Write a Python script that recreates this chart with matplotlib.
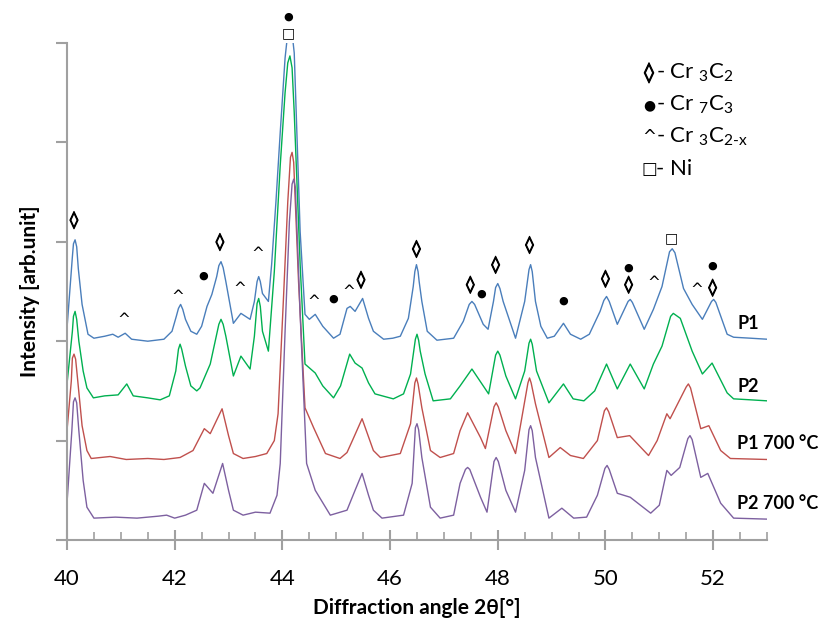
import matplotlib
matplotlib.use("Agg")
import matplotlib.pyplot as plt
import matplotlib.patheffects as pe
from matplotlib.ticker import MultipleLocator

plt.rcParams['font.family'] = ['Lato', 'DejaVu Sans']
plt.rcParams['mathtext.fontset'] = 'custom'
plt.rcParams['mathtext.rm'] = 'Lato'
plt.rcParams['mathtext.it'] = 'Lato:italic'
plt.rcParams['mathtext.bf'] = 'Lato:bold'

# ---------------- data (2theta in degrees, intensity in arb. units, offset stacks) -------------
p1_x = [40.00, 40.10, 40.12, 40.15, 40.18, 40.21, 40.28, 40.39, 40.50, 40.70, 40.85, 40.95, 41.08,
        41.20, 41.50, 41.80, 41.95, 42.03, 42.07, 42.11, 42.15, 42.20, 42.30, 42.41, 42.50, 42.60,
        42.69, 42.78, 42.82, 42.86, 42.90, 42.95, 43.09, 43.23, 43.40, 43.48, 43.53, 43.56, 43.59,
        43.63, 43.74, 43.80, 43.88, 43.96, 44.05, 44.14, 44.22, 44.33, 44.42, 44.50, 44.61, 44.75,
        44.95, 45.07, 45.20, 45.26, 45.35, 45.49, 45.60, 45.69, 45.88, 46.05, 46.19, 46.34, 46.43,
        46.46, 46.49, 46.52, 46.54, 46.59, 46.69, 46.87, 47.18, 47.36, 47.47, 47.52, 47.57, 47.73,
        47.82, 47.92, 47.96, 48.00, 48.04, 48.10, 48.33, 48.50, 48.58, 48.61, 48.64, 48.70, 48.80,
        48.92, 49.05, 49.22, 49.35, 49.54, 49.70, 49.90, 49.97, 50.02, 50.07, 50.22, 50.42, 50.46,
        50.50, 50.72, 50.89, 51.05, 51.19, 51.24, 51.29, 51.45, 51.61, 51.80, 51.97, 52.01, 52.05,
        52.26, 52.38, 52.70, 53.00]
p1_y = [2130, 2850, 2980, 3020, 2950, 2730, 2370, 2070, 2030, 2050, 2070, 2040, 2080,
        2020, 2000, 2020, 2100, 2250, 2330, 2370, 2320, 2220, 2100, 2070, 2150, 2350,
        2470, 2650, 2760, 2800, 2740, 2600, 2180, 2280, 2220, 2400, 2600, 2650, 2600,
        2480, 2400, 2770, 3400, 4100, 4850, 5300, 4900, 3100, 2270, 2220, 2270, 2150,
        2030, 2070, 2330, 2350, 2300, 2430, 2230, 2100, 2020, 2030, 2050, 2230, 2550,
        2700, 2770, 2700, 2600, 2400, 2100, 2010, 2030, 2200, 2370, 2400, 2370, 2170,
        2120, 2400, 2540, 2580, 2530, 2400, 2030, 2400, 2720, 2770, 2700, 2400, 2150,
        2030, 2050, 2180, 2070, 2020, 2070, 2300, 2410, 2450, 2400, 2170, 2400, 2420,
        2390, 2120, 2320, 2550, 2900, 2930, 2890, 2530, 2370, 2220, 2400, 2420, 2390,
        2070, 2040, 2030, 2020]

p2_x = [40.00, 40.10, 40.12, 40.15, 40.18, 40.22, 40.30, 40.37, 40.49, 40.70, 40.95, 41.11, 41.23,
        41.50, 41.73, 41.90, 42.02, 42.07, 42.10, 42.13, 42.20, 42.30, 42.41, 42.47, 42.66, 42.82,
        42.86, 42.90, 42.95, 43.09, 43.23, 43.40, 43.48, 43.53, 43.56, 43.59, 43.63, 43.74, 43.85,
        43.96, 44.05, 44.10, 44.14, 44.18, 44.22, 44.33, 44.42, 44.61, 44.75, 44.95, 45.08, 45.25,
        45.35, 45.48, 45.60, 45.72, 46.06, 46.25, 46.38, 46.47, 46.50, 46.53, 46.56, 46.65, 46.80,
        47.12, 47.30, 47.52, 47.83, 47.96, 48.00, 48.04, 48.15, 48.33, 48.50, 48.58, 48.61, 48.64,
        48.72, 48.95, 49.22, 49.40, 49.60, 49.80, 50.02, 50.22, 50.46, 50.72, 50.89, 51.05, 51.21,
        51.26, 51.39, 51.61, 51.80, 51.98, 52.26, 52.38, 52.70, 53.00]
p2_y = [1570, 2100, 2250, 2300, 2220, 2000, 1700, 1530, 1430, 1450, 1460, 1570, 1450,
        1430, 1410, 1450, 1700, 1920, 1970, 1920, 1750, 1550, 1500, 1530, 1770, 2170,
        2220, 2170, 2050, 1650, 1850, 1720, 2050, 2380, 2430, 2350, 2100, 1900, 2700,
        3770, 4500, 4800, 4870, 4750, 4300, 2770, 1770, 1680, 1550, 1430, 1550, 1870,
        1780, 1730, 1580, 1470, 1420, 1470, 1670, 2020, 2070, 2010, 1900, 1670, 1400,
        1420, 1550, 1720, 1470, 1860, 1900, 1860, 1650, 1420, 1700, 1980, 2020, 1970,
        1700, 1380, 1570, 1420, 1400, 1500, 1770, 1520, 1770, 1520, 1770, 1950, 2250,
        2280, 2230, 1900, 1670, 1780, 1480, 1420, 1410, 1400]

p1h_x = [40.00, 40.08, 40.10, 40.13, 40.16, 40.20, 40.28, 40.37, 40.45, 40.80, 41.10, 41.50, 41.80,
         42.10, 42.34, 42.55, 42.66, 42.88, 43.00, 43.09, 43.27, 43.50, 43.71, 43.85, 43.92, 44.02,
         44.10, 44.15, 44.18, 44.21, 44.24, 44.30, 44.42, 44.58, 44.80, 45.07, 45.20, 45.30, 45.48,
         45.69, 45.82, 46.19, 46.38, 46.46, 46.49, 46.52, 46.59, 46.75, 46.93, 47.18, 47.30, 47.44,
         47.68, 47.77, 47.93, 47.97, 48.01, 48.15, 48.33, 48.56, 48.59, 48.62, 48.70, 48.95, 49.16,
         49.35, 49.59, 49.85, 49.98, 50.02, 50.06, 50.22, 50.45, 50.80, 50.96, 51.14, 51.20, 51.50,
         51.54, 51.58, 51.77, 51.92, 52.14, 52.32, 53.00]
p1h_y = [1100, 1600, 1830, 1870, 1820, 1600, 1150, 900, 820, 840, 810, 820, 810,
         830, 900, 1120, 1070, 1320, 1050, 870, 820, 840, 870, 1000, 1270, 2430,
         3400, 3850, 3900, 3800, 3400, 2600, 1330, 1130, 870, 820, 880, 1000, 1220,
         900, 830, 870, 1170, 1580, 1630, 1570, 1330, 900, 830, 870, 1100, 1280,
         1030, 920, 1340, 1380, 1340, 1100, 870, 1580, 1630, 1580, 1370, 830, 930,
         850, 820, 1000, 1300, 1330, 1290, 1030, 1050, 850, 1000, 1270, 1220, 1540,
         1570, 1530, 1120, 1150, 900, 820, 810]

p2h_x = [40.00, 40.09, 40.12, 40.15, 40.18, 40.22, 40.30, 40.37, 40.50, 40.90, 41.30, 41.70, 41.85,
         42.00, 42.20, 42.41, 42.55, 42.71, 42.89, 43.00, 43.09, 43.27, 43.50, 43.77, 43.90, 43.96,
         44.05, 44.13, 44.18, 44.21, 44.24, 44.28, 44.33, 44.45, 44.61, 44.89, 45.20, 45.35, 45.48,
         45.60, 45.69, 45.85, 46.25, 46.41, 46.47, 46.50, 46.53, 46.59, 46.75, 46.93, 47.18, 47.30,
         47.40, 47.44, 47.48, 47.68, 47.80, 47.93, 47.97, 48.01, 48.15, 48.33, 48.50, 48.58, 48.61,
         48.64, 48.70, 48.95, 49.19, 49.41, 49.65, 49.85, 49.99, 50.03, 50.07, 50.22, 50.46, 50.84,
         51.00, 51.14, 51.22, 51.38, 51.53, 51.57, 51.61, 51.77, 51.90, 52.14, 52.38, 53.00]
p2h_y = [370, 1100, 1390, 1430, 1380, 1100, 600, 330, 220, 230, 220, 240, 250,
         220, 250, 300, 570, 470, 770, 500, 300, 250, 280, 270, 450, 770,
         2100, 3200, 3580, 3630, 3550, 3000, 2270, 770, 500, 250, 300, 500, 670,
         450, 300, 220, 250, 570, 1130, 1170, 1110, 830, 330, 220, 250, 570,
         710, 730, 710, 430, 280, 790, 830, 790, 500, 280, 700, 1110, 1150,
         1100, 830, 220, 320, 220, 230, 450, 720, 750, 710, 470, 430, 270,
         350, 700, 650, 730, 1020, 1050, 1010, 630, 670, 370, 220, 210]

series_names = ['P1', 'P2', 'P1 700 °C', 'P2 700 °C']
series_label_y = [2180, 1540, 970, 370]

# phase markers: (symbol, 2theta, height)
marker_sym = ['◊', '^', '^', '●', '◊', '^', '^', '●', '□', '^', '●', '^', '◊', '◊', '◊', '●',
              '◊', '◊', '●', '◊', '●', '◊', '^', '□', '^', '●', '◊']
marker_x = [40.13, 41.06, 42.06, 42.53, 42.84, 43.20, 43.55, 44.11, 44.11, 44.59, 44.94, 45.24,
            45.46, 46.49, 47.49, 47.70, 47.96, 48.59, 49.22, 50.00, 50.43, 50.43, 50.89, 51.23,
            51.69, 51.99, 51.99]
marker_y = [3220, 2220, 2450, 2660, 3000, 2530, 2880, 5270, 5100, 2400, 2430, 2500,
            2620, 2930, 2570, 2480, 2770, 2970, 2410, 2630, 2740, 2570, 2590, 3040,
            2520, 2760, 2540]

legend_syms = ['◊', '●', '^', '□']
legend_texts = ['- Cr $_3$C$_2$', '- Cr $_7$C$_3$', '- Cr $_3$C$_{2\\text{-x}}$', '- Ni']

x_ticks = [40, 42, 44, 46, 48, 50, 52]

# ---------------- plot ----------------
fig = plt.figure(figsize=(8.24, 6.2), dpi=100)
ax = fig.add_axes([67 / 824, 1 - 540 / 620, (767 - 67) / 824, (540 - 43) / 620])

colors = ['#4A7EBB', '#00B050', '#C0504D', '#7D60A0']
for (xs, ys), c in zip([(p1_x, p1_y), (p2_x, p2_y), (p1h_x, p1h_y), (p2h_x, p2h_y)], colors):
    ax.plot(xs, ys, color=c, lw=1.0)

ax.set_xlim(40, 53)
ax.set_ylim(0, 5000)
ax.set_xticks(x_ticks)
ax.xaxis.set_minor_locator(MultipleLocator(0.5))
ax.yaxis.set_major_locator(MultipleLocator(1000))
ax.set_yticklabels([])

gray = '#A0A0A0'
for s in ['top', 'right']:
    ax.spines[s].set_visible(False)
for s in ['left', 'bottom']:
    ax.spines[s].set_color(gray)
    ax.spines[s].set_linewidth(1.5)
ax.tick_params(axis='x', which='major', direction='inout', length=14, width=1.5, color=gray,
               labelsize=16, pad=14)
ax.tick_params(axis='x', which='minor', direction='in', length=6, width=1.2, color=gray)
ax.tick_params(axis='y', which='major', direction='out', length=8, width=1.5, color=gray)

ax.set_xlabel('Diffraction angle 2θ[°]', fontsize=15, fontweight='bold', labelpad=6)
ax.set_ylabel('Intensity [arb.unit]', fontsize=15, fontweight='bold', labelpad=8)

thick = [pe.withStroke(linewidth=0.8, foreground='black')]
sym_size = {'◊': 12, '^': 11, '●': 8, '□': 10}
for s, x, y in zip(marker_sym, marker_x, marker_y):
    ax.text(x, y, s, ha='center', va='center', fontsize=sym_size[s],
            family='DejaVu Sans', clip_on=False,
            path_effects=thick if s == '◊' else None)

for name, y in zip(series_names, series_label_y):
    ax.text(52.45, y, name, ha='left', va='center', fontsize=13, fontweight='bold')

leg_sym_size = {'◊': 14, '^': 12, '●': 10, '□': 12}
for i, (s, t) in enumerate(zip(legend_syms, legend_texts)):
    yy = 1 - (73 + 32 * i) / 620
    fig.text(649 / 824, yy, s, ha='center', va='center', fontsize=leg_sym_size[s],
             family='DejaVu Sans', path_effects=thick if s == '◊' else None)
    fig.text(656 / 824, yy, t, ha='left', va='center', fontsize=16)

fig.savefig('out.png', dpi=100)
